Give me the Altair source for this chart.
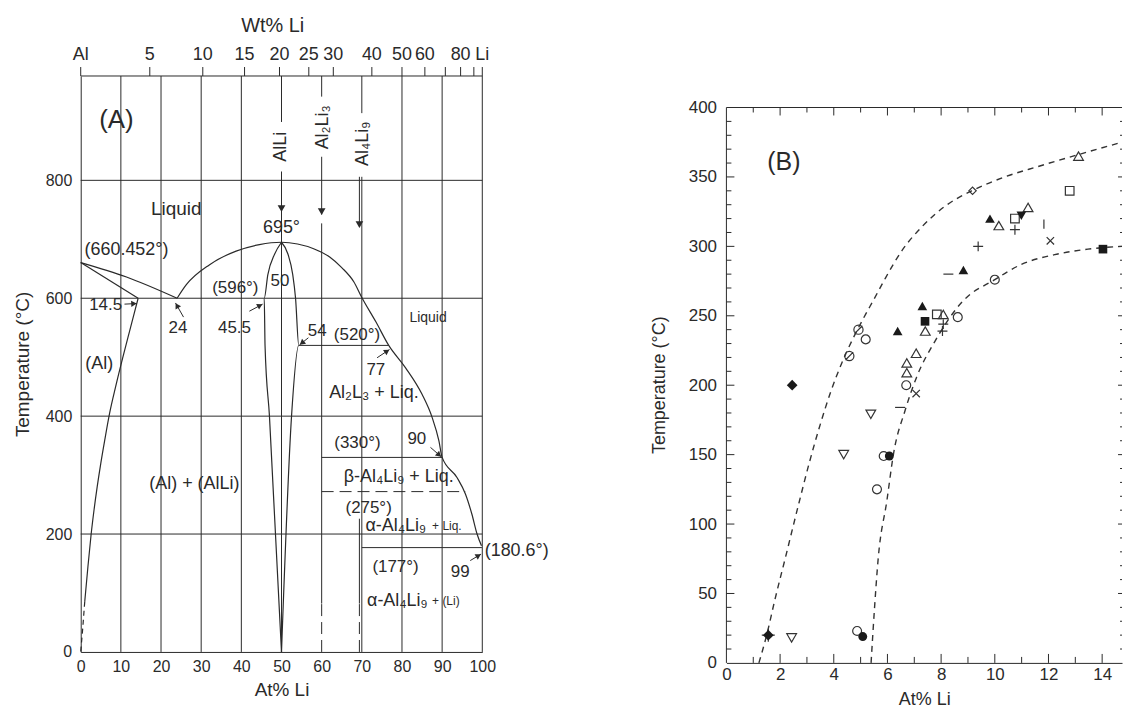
import math
import altair as alt
import pandas as pd

FONT = "Liberation Sans"
INK = "#2a2a2a"

# ======================= Panel A (Al-Li phase diagram) =======================
A_W, A_H = 403, 578
A_XMAX, A_TMAX = 100, 977

at_ticks = [0, 10, 20, 30, 40, 50, 60, 70, 80, 90, 100]
temp_ticks_A = [0, 200, 400, 600, 800]

# top (Wt% Li) axis: tick positions on the At% scale and their labels
wt_tick_pos = [0, 17.2, 30.4, 40.8, 49.5, 56.8, 62.9, 72.5, 80.0, 85.7, 90.8, 94.6, 97.9, 100]
wt_tick_text = ["Al", "5", "10", "15", "20", "25", "30", "40", "50", "60", "", "80", "", "Li"]

# phase boundaries (At% Li, deg C)
liq_al_x = [0, 11.4, 24]
liq_al_t = [660.452, 636, 600]
sol_al_x = [0, 14.3]
sol_al_t = [660.452, 600]
solvus_x = [14.3, 12.4, 10.5, 8.7, 7.2, 6.0, 5.0, 4.1, 3.3, 2.6, 1.8, 1.0]
solvus_t = [600, 550, 500, 450, 405, 360, 320, 280, 240, 200, 145, 85]
solvus_low_x = [1.0, 0.5, 0.0]
solvus_low_t = [85, 40, 0]
dome_x = [24, 26.3, 32.1, 38.7, 44.5, 50, 54, 58, 62, 65, 68, 70.1, 73.5, 76.7, 80.9, 85, 87.5,
          89.2, 90, 93.7, 95.8, 97.4, 98.7, 99.8]
dome_t = [600, 623, 657, 680, 691, 695, 692, 684, 670, 652, 628, 600, 560, 520, 482, 437, 398,
          358, 330, 296, 268, 234, 200, 180]
alli_l_x = [50, 48.3, 46.6, 45.7, 45.9, 47.0, 50]
alli_l_t = [695, 675, 640, 600, 520, 400, 0]
alli_r_x = [50, 51.6, 52.8, 53.5, 54.3, 52.5, 50]
alli_r_t = [695, 675, 640, 600, 520, 400, 0]

# straight solid segments: grid, frame, compound lines, isotherms
seg_x = [10, 20, 30, 40, 50, 50, 60, 60, 60, 69.4, 69.4, 70, 70, 80, 90,
         0, 0, 0, 0, 0, 100, 54.3, 60, 70]
seg_x2 = [10, 20, 30, 40, 50, 50, 60, 60, 60, 69.4, 69.4, 70, 70, 80, 90,
          100, 100, 100, 100, 100, 100, 76.7, 90, 99.9]
seg_t = [0, 0, 0, 0, 0, 899, 82, 742, 942, 82, 725, 0, 914, 0, 0,
         200, 400, 600, 800, 977, 0, 520, 330, 177]
seg_t2 = [977, 977, 977, 977, 815, 977, 727, 840, 977, 226, 806, 806, 977, 977, 977,
          200, 400, 600, 800, 977, 977, 520, 330, 177]
# dashed segments
dash_x = [60, 69.4, 60]
dash_x2 = [60, 69.4, 95.8]
dash_t = [0, 0, 272]
dash_t2 = [82, 82, 272]

# downward arrow heads below compound labels
top_head_x = [50, 60, 69.4]
top_head_t = [752, 747, 725]

# small arrows pointing at invariant compositions
arr_x0 = [10.9, 25.6, 42.0, 56.7, 73.8, 87.1, 97.0]
arr_t0 = [590, 568, 578, 533, 499, 347, 155]
arr_x1 = [14.0, 23.6, 45.3, 54.5, 76.9, 89.8, 99.7]
arr_t1 = [591, 592, 590, 521, 513, 331, 166]

# rotated compound labels
vlab_text = ["AlLi", "Al\u2082Li\u2083", "Al\u2084Li\u2089"]
vlab_x = [50.0, 60.4, 70.2]
vlab_t = [857, 890, 862]

# centred annotations
ann_text = ["(A)", "Liquid", "695°", "(660.452°)", "14.5", "24", "(596°)", "50", "45.5", "54",
            "(520°)", "Liquid", "77", "Al\u2082L\u2083 + Liq.", "(Al)", "(Al) + (AlLi)", "(330°)", "90",
            "\u03b2-Al\u2084Li\u2089 + Liq.", "(275°)", "(177°)", "99"]
ann_x = [8.9, 23.8, 50.0, 11.4, 6.2, 24.2, 38.5, 49.6, 38.3, 58.9,
         68.8, 86.5, 73.5, 73.0, 4.6, 28.3, 68.9, 83.7,
         79.2, 71.7, 78.4, 94.5]
ann_t = [902, 752, 719, 682, 589, 549, 618, 629, 550, 544,
         537, 567, 479, 440, 488, 285, 355, 362,
         296, 244, 144, 135]
ann_size = [26, 19, 18, 18, 17, 17, 17, 17, 17, 17,
            17, 14, 17, 18, 18, 18, 17, 17,
            18, 17, 17, 17]
# left-aligned annotations
lann_text = ["\u03b1-Al\u2084Li\u2089", "+ Liq.", "\u03b1-Al\u2084Li\u2089", "+ (Li)", "(180.6°)"]
lann_x = [70.9, 87.5, 71.3, 87.5, 100.6]
lann_t = [214, 214, 87, 87, 171]
lann_size = [18, 12, 18, 12, 18]

# ======================= Panel B (solvus data) =======================
B_W, B_H = 397, 589          # plot box; the framed part ends at 400 degC
B_XMAX, B_TMAX = 14.74, 422.7
B_FRAME_T = 400
b_xlabels = [0, 2, 4, 6, 8, 10, 12, 14]
b_ylabels = [0, 50, 100, 150, 200, 250, 300, 350, 400]
b_major_x = [2, 4, 6, 8, 10, 12, 14]
b_minor_x = [1, 3, 5, 7, 9, 11, 13]
b_major_y = [50, 100, 150, 200, 250, 300, 350]
b_minor_y = [10, 20, 30, 40, 60, 70, 80, 90, 110, 120, 130, 140, 160, 170, 180, 190,
             210, 220, 230, 240, 260, 270, 280, 290, 310, 320, 330, 340, 360, 370, 380, 390]

b_left_x = [1.21, 1.5, 1.8, 2.2, 2.7, 3.1, 3.5, 3.9, 4.3, 4.7, 5.1, 5.5, 5.92, 6.54, 7.28,
            8.15, 9.14, 10.37, 11.61, 13.1, 14.74]
b_left_t = [0, 20, 45, 76, 115, 145, 172, 196, 216, 233, 248, 262, 277, 297, 314,
            329, 340, 350, 357.5, 366, 375]
b_right_x = [5.39, 5.52, 5.65, 5.98, 6.23, 6.66, 7.09, 7.78, 8.83, 10.0, 10.99, 12.23, 13.47, 14.74]
b_right_t = [0, 40, 74, 117, 151, 182, 206, 232, 261, 276, 287, 294, 298, 300]

mk_x = [5.19, 6.70, 8.62, 10.0, 5.86, 5.61, 4.87,
        6.07, 5.08,
        4.58, 4.92,
        6.38, 7.30, 8.83, 9.82,
        7.41, 8.08, 6.72, 6.72, 7.07, 10.15, 11.24, 13.12,
        10.99,
        5.38, 4.37, 2.43,
        7.40, 14.03,
        7.84, 10.75, 12.79,
        2.45, 1.56,
        9.17,
        8.08, 8.05, 9.38, 10.75, 1.56,
        12.07, 7.07,
        8.27, 6.47,
        11.83]
mk_t = [233, 200, 249, 276, 149, 125, 23,
        149, 19,
        221, 240,
        239, 257, 283, 320,
        239, 251, 216, 209, 223, 315, 328, 365,
        322,
        179, 150, 18,
        246, 298,
        251, 320, 340,
        200, 20,
        340,
        244, 239, 300, 312, 20,
        304, 194,
        280, 184,
        316]
mk_kind = ["o"] * 7 + ["o_f"] * 2 + ["slash"] * 2 + ["tri_f"] * 4 + ["tri"] * 8 + ["tdown_f"] + \
          ["tdown"] * 3 + ["sq_f"] * 2 + ["sq"] * 3 + ["dia_f"] * 2 + ["dia"] + ["plus"] * 4 + \
          ["plus_big"] + ["x"] * 2 + ["dash"] * 2 + ["bar"]

# marker styling: kind -> (shape, filled, size)
STYLE = {
    "o": ("circle", False, 80), "o_f": ("circle", True, 80),
    "slash": ("M1,0A1,1,0,1,1,-1,0A1,1,0,1,1,1,0M-0.85,0.85L0.85,-0.85", False, 85),
    "tri": ("triangle-up", False, 95), "tri_f": ("triangle-up", True, 95),
    "tdown": ("triangle-down", False, 95), "tdown_f": ("triangle-down", True, 95),
    "sq": ("square", False, 75), "sq_f": ("square", True, 75),
    "dia": ("diamond", False, 55), "dia_f": ("diamond", True, 115),
    "plus": ("M-1,0L1,0M0,-1L0,1", False, 100), "plus_big": ("M-1,0L1,0M0,-1L0,1", False, 170),
    "x": ("M-1,-1L1,1M-1,1L1,-1", False, 55),
    "dash": ("M-1,0L1,0", False, 100), "bar": ("M0,-1L0,1", False, 85),
}

# ======================= build panel A =======================
xsA = alt.Scale(domain=[0, A_XMAX], nice=False, zero=False)
ysA = alt.Scale(domain=[0, A_TMAX], nice=False, zero=False)
axA_x = alt.Axis(values=at_ticks, title="At% Li", ticks=False, grid=False, domain=True,
                 domainColor=INK, labelFont=FONT, labelFontSize=16, labelColor=INK,
                 labelPadding=7, labelFlush=False, labelOverlap=False,
                 titleFont=FONT, titleFontSize=19, titleFontWeight="normal",
                 titleColor=INK, titlePadding=6)
axA_y = alt.Axis(values=temp_ticks_A, title="Temperature (°C)", ticks=False, grid=False,
                 domain=True, domainColor=INK, labelFont=FONT, labelFontSize=16,
                 labelColor=INK, labelPadding=9, labelFlush=False, labelOverlap=False,
                 titleFont=FONT, titleFontSize=19, titleFontWeight="normal",
                 titleColor=INK, titlePadding=13)


def XA(f):
    return alt.X(f, type="quantitative", scale=xsA, axis=axA_x)


def YA(f):
    return alt.Y(f, type="quantitative", scale=ysA, axis=axA_y)


curves = []
for name, xs, ts in [("liq", liq_al_x, liq_al_t), ("sol", sol_al_x, sol_al_t),
                     ("solvus", solvus_x, solvus_t), ("dome", dome_x, dome_t),
                     ("alli_l", alli_l_x, alli_l_t), ("alli_r", alli_r_x, alli_r_t)]:
    curves.append(pd.DataFrame({"name": name, "x": xs, "t": ts, "i": range(len(xs))}))
curves_df = pd.concat(curves, ignore_index=True)
curves_dash_df = pd.DataFrame({"name": "solvus_low", "x": solvus_low_x, "t": solvus_low_t,
                               "i": range(len(solvus_low_x))})

seg_df = pd.DataFrame({"x": seg_x, "x2": seg_x2, "t": seg_t, "t2": seg_t2})
dash_df = pd.DataFrame({"x": dash_x, "x2": dash_x2, "t": dash_t, "t2": dash_t2})

sxA = A_W / A_XMAX
syA = A_H / A_TMAX
heads = []
for x0, t0, x1, t1 in zip(arr_x0, arr_t0, arr_x1, arr_t1):
    dxp, dyp = (x1 - x0) * sxA, (t1 - t0) * syA
    L = math.hypot(dxp, dyp)
    ang = (math.degrees(math.atan2(dxp, dyp)) + 360) % 360
    heads.append({"x": x1 - 3 * dxp / L / sxA, "t": t1 - 3 * dyp / L / syA, "ang": ang})
heads_df = pd.DataFrame(heads)
arrows_df = pd.DataFrame({"x": arr_x0, "x2": arr_x1, "t": arr_t0, "t2": arr_t1})
top_heads_df = pd.DataFrame({"x": top_head_x, "t": top_head_t})

a_curves = alt.Chart(curves_df).mark_line(color=INK, strokeWidth=1.2, interpolate="monotone").encode(
    x=XA("x"), y=YA("t"), detail="name:N", order="i:Q")
a_curves_d = alt.Chart(curves_dash_df).mark_line(color=INK, strokeWidth=1.2, strokeDash=[5, 4]).encode(
    x=XA("x"), y=YA("t"), detail="name:N", order="i:Q")
a_segs = alt.Chart(seg_df).mark_rule(color=INK, strokeWidth=1).encode(
    x=XA("x"), x2="x2:Q", y=YA("t"), y2="t2:Q")
a_dash = alt.Chart(dash_df).mark_rule(color=INK, strokeWidth=1, strokeDash=[12, 6]).encode(
    x=XA("x"), x2="x2:Q", y=YA("t"), y2="t2:Q")
a_arrows = alt.Chart(arrows_df).mark_rule(color=INK, strokeWidth=1).encode(
    x=XA("x"), x2="x2:Q", y=YA("t"), y2="t2:Q")
a_heads = alt.Chart(heads_df).mark_point(shape="triangle-up", filled=True, color=INK, size=40,
                                         opacity=1).encode(
    x=XA("x"), y=YA("t"), angle=alt.Angle("ang:Q", scale=None))
a_top_heads = alt.Chart(top_heads_df).mark_point(shape="triangle-down", filled=True, color=INK,
                                                 size=60, opacity=1).encode(x=XA("x"), y=YA("t"))

vlab_df = pd.DataFrame({"label": vlab_text, "x": vlab_x, "t": vlab_t})
a_vlab = alt.Chart(vlab_df).mark_text(font=FONT, fontSize=18, color=INK, angle=270,
                                      align="center", baseline="middle").encode(
    x=XA("x"), y=YA("t"), text="label:N")

ann_df = pd.DataFrame({"label": ann_text, "x": ann_x, "t": ann_t, "size": ann_size})
a_ann = alt.Chart(ann_df).mark_text(font=FONT, color=INK, align="center", baseline="middle").encode(
    x=XA("x"), y=YA("t"), text="label:N", size=alt.Size("size:Q", scale=None))
lann_df = pd.DataFrame({"label": lann_text, "x": lann_x, "t": lann_t, "size": lann_size})
a_lann = alt.Chart(lann_df).mark_text(font=FONT, color=INK, align="left", baseline="middle").encode(
    x=XA("x"), y=YA("t"), text="label:N", size=alt.Size("size:Q", scale=None))

wt_df = pd.DataFrame({"x": wt_tick_pos, "label": wt_tick_text})
a_wt_ticks = alt.Chart(wt_df).mark_rule(color=INK, strokeWidth=1).encode(
    x=XA("x"), y=alt.value(0), y2=alt.value(-9))
a_wt_labels = alt.Chart(wt_df).mark_text(font=FONT, fontSize=18, color=INK, align="center",
                                         baseline="middle").encode(
    x=XA("x"), y=alt.value(-21), text="label:N")
a_wt_title = alt.Chart(pd.DataFrame({"label": ["Wt% Li"]})).mark_text(
    font=FONT, fontSize=20, color=INK, align="center", baseline="middle").encode(
    x=alt.X(datum=47.8, type="quantitative", scale=xsA, axis=axA_x), y=alt.value(-50),
    text="label:N")

panelA = alt.layer(a_segs, a_dash, a_curves, a_curves_d, a_arrows, a_heads, a_top_heads,
                   a_vlab, a_ann, a_lann, a_wt_ticks, a_wt_labels, a_wt_title).properties(
    width=A_W, height=A_H)

# ======================= build panel B =======================
xsB = alt.Scale(domain=[0, B_XMAX], nice=False, zero=False)
ysB = alt.Scale(domain=[0, B_TMAX], nice=False, zero=False)
axB_x = alt.Axis(values=b_xlabels, title="At% Li", ticks=False, grid=False, domain=True,
                 domainColor=INK, labelFont=FONT, labelFontSize=17, labelColor=INK,
                 labelPadding=4, labelFlush=False, labelOverlap=False,
                 titleFont=FONT, titleFontSize=18, titleFontWeight="normal",
                 titleColor=INK, titlePadding=8)
axB_y = alt.Axis(values=b_ylabels, title=None, ticks=False, grid=False,
                 domain=False, labelFont=FONT, labelFontSize=17,
                 labelColor=INK, labelPadding=10, labelFlush=False, labelOverlap=False)


def XB(f):
    return alt.X(f, type="quantitative", scale=xsB, axis=axB_x)


def YB(f):
    return alt.Y(f, type="quantitative", scale=ysB, axis=axB_y)


bcurves_df = pd.concat([
    pd.DataFrame({"name": "left", "x": b_left_x, "t": b_left_t, "i": range(len(b_left_x))}),
    pd.DataFrame({"name": "right", "x": b_right_x, "t": b_right_t, "i": range(len(b_right_x))}),
], ignore_index=True)

mk_df = pd.DataFrame({"x": mk_x, "t": mk_t, "kind": mk_kind})
mk_df["shape"] = [STYLE[k][0] for k in mk_kind]
mk_df["filled"] = [STYLE[k][1] for k in mk_kind]
mk_df["size"] = [STYLE[k][2] for k in mk_kind]
mk_open = mk_df[~mk_df["filled"]]
mk_fill = mk_df[mk_df["filled"]]

b_curves = alt.Chart(bcurves_df).mark_line(color="#333333", strokeWidth=1.4, strokeDash=[6, 5],
                                           interpolate="monotone").encode(
    x=XB("x"), y=YB("t"), detail="name:N", order="i:Q")
b_open = alt.Chart(mk_open).mark_point(filled=False, color="#333333", strokeWidth=1.2, opacity=1).encode(
    x=XB("x"), y=YB("t"), shape=alt.Shape("shape:N", scale=None), size=alt.Size("size:Q", scale=None))
b_fill = alt.Chart(mk_fill).mark_point(filled=True, color="#1a1a1a", opacity=1).encode(
    x=XB("x"), y=YB("t"), shape=alt.Shape("shape:N", scale=None), size=alt.Size("size:Q", scale=None))

px_per_deg = B_H / B_TMAX
tick_layers = []
for vals, pos, length in [(b_major_y, 0, 8), (b_minor_y, 0, 5),
                          (b_major_y, B_W, -4), (b_minor_y, B_W, -2)]:
    d = pd.DataFrame({"t": vals})
    tick_layers.append(alt.Chart(d).mark_rule(color=INK, strokeWidth=1).encode(
        y=YB("t"), x=alt.value(pos), x2=alt.value(pos + length)))
for vals, base, length in [(b_major_x, 0, 9), (b_minor_x, 0, 6),
                           (b_major_x, B_FRAME_T, -8), (b_minor_x, B_FRAME_T, -5)]:
    d = pd.DataFrame({"x": vals, "t0": base, "t1": base + length / px_per_deg})
    tick_layers.append(alt.Chart(d).mark_rule(color=INK, strokeWidth=1).encode(
        x=XB("x"), y=YB("t0"), y2="t1:Q"))

frame_df = pd.DataFrame({"x": [0, 0], "x2": [0, B_XMAX], "t": [0, B_FRAME_T], "t2": [B_FRAME_T, B_FRAME_T]})
b_frame = alt.Chart(frame_df).mark_rule(color=INK, strokeWidth=1).encode(
    x=XB("x"), x2="x2:Q", y=YB("t"), y2="t2:Q")

b_label = alt.Chart(pd.DataFrame({"label": ["(B)"], "x": [2.14], "t": [361]})).mark_text(
    font=FONT, fontSize=25, color=INK, align="center", baseline="middle").encode(
    x=XB("x"), y=YB("t"), text="label:N")
b_ytitle = alt.Chart(pd.DataFrame({"label": ["Temperature (°C)"]})).mark_text(
    font=FONT, fontSize=18, color=INK, angle=270, align="center", baseline="middle").encode(
    x=alt.value(-67), y=alt.Y(datum=200, type="quantitative", scale=ysB, axis=axB_y),
    text="label:N")

panelB = alt.layer(b_frame, *tick_layers, b_curves, b_open, b_fill, b_label, b_ytitle).properties(
    width=B_W, height=B_H)

chart = alt.concat(panelA, panelB, columns=2, spacing=100).properties(
    padding={"left": 12, "top": 14, "right": 0, "bottom": 0}
).configure_view(stroke="transparent")

chart.save("out.html", embed_options={"renderer": "svg", "actions": False})
